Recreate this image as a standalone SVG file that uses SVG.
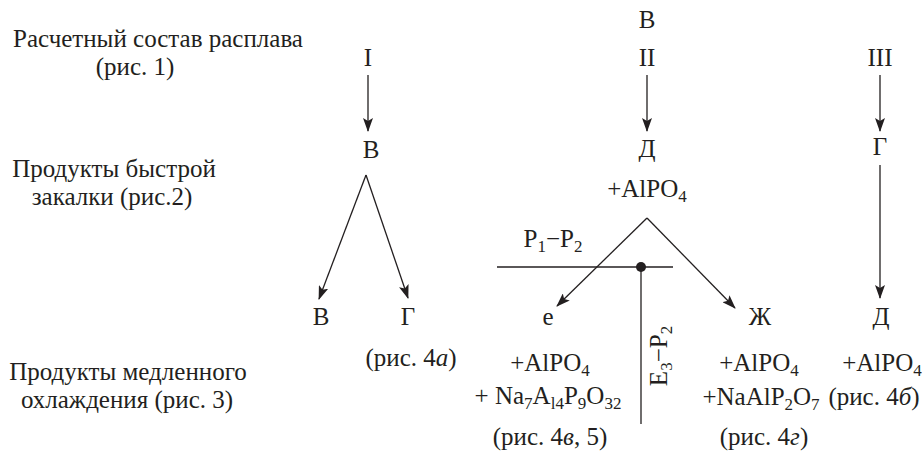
<svg xmlns="http://www.w3.org/2000/svg" width="924" height="460" viewBox="0 0 924 460">
<style>
text{font-family:"Liberation Serif","Times New Roman",serif;font-size:25px;fill:#231f20;text-anchor:middle}
.s{font-size:17px}
.i{font-style:italic}
.ln{stroke:#231f20;stroke-width:1.3;fill:none}
.ar{marker-end:url(#ah)}
</style>
<defs>
<marker id="ah" viewBox="0 0 14 10" refX="13" refY="5" markerWidth="14" markerHeight="10" markerUnits="userSpaceOnUse" orient="auto">
<path d="M0,0 L14,5 L0,10 L3,5 z" fill="#231f20"/>
</marker>
</defs>
<rect width="924" height="460" fill="#fff"/>
<g id="labels">
<text x="158" y="47">Расчетный состав расплава</text>
<text x="135" y="75">(рис. 1)</text>
<text x="114" y="177">Продукты быстрой</text>
<text x="112" y="205">закалки (рис.2)</text>
<text x="128" y="380">Продукты медленного</text>
<text x="127" y="408">охлаждения (рис. 3)</text>
</g>
<g id="n-top-B"><text x="647" y="28">В</text></g>
<g id="n-I"><text x="368" y="66">I</text></g>
<g id="n-II"><text x="647" y="66">II</text></g>
<g id="n-III"><text x="880" y="66">III</text></g>
<g id="n-B1"><text x="371" y="158">В</text></g>
<g id="n-D1"><text x="647" y="157">Д</text><text x="647" y="197">+AlPO<tspan class="s" dy="5">4</tspan></text></g>
<g id="n-G1"><text x="880" y="155">Г</text></g>
<g id="n-B2"><text x="321" y="325">В</text></g>
<g id="n-G2"><text x="408" y="325">Г</text><text x="411" y="366">(рис. 4<tspan class="i">а</tspan>)</text></g>
<g id="n-e"><text x="548" y="325">е</text><text x="550" y="371">+AlPO<tspan class="s" dy="5">4</tspan></text><text x="548" y="404">+ Na<tspan class="s" dy="5">7</tspan><tspan dy="-5">A</tspan><tspan class="s" dy="5">l4</tspan><tspan dy="-5">P</tspan><tspan class="s" dy="5">9</tspan><tspan dy="-5">O</tspan><tspan class="s" dy="5">32</tspan></text><text x="550" y="445">(рис. 4<tspan class="i">в</tspan>, 5)</text></g>
<g id="n-zh"><text x="760" y="325">Ж</text><text x="759" y="371">+AlPO<tspan class="s" dy="5">4</tspan></text><text x="761" y="405">+NaAlP<tspan class="s" dy="5">2</tspan><tspan dy="-5">O</tspan><tspan class="s" dy="5">7</tspan></text><text x="764" y="445">(рис. 4<tspan class="i">г</tspan>)</text></g>
<g id="n-D2"><text x="881" y="325">Д</text><text x="882" y="371">+AlPO<tspan class="s" dy="5">4</tspan></text><text x="874" y="405">(рис. 4<tspan class="i">б</tspan>)</text></g>
<g id="connectors">
<line class="ln ar" x1="368" y1="75" x2="368" y2="131"/>
<line class="ln ar" x1="647" y1="75" x2="647" y2="131"/>
<line class="ln ar" x1="880" y1="75" x2="880" y2="131"/>
<line class="ln ar" x1="880" y1="165" x2="880" y2="298"/>
<line class="ln ar" x1="366" y1="175" x2="319" y2="299"/>
<line class="ln ar" x1="366" y1="175" x2="408" y2="298"/>
<line class="ln ar" x1="647" y1="218" x2="557" y2="306"/>
<line class="ln ar" x1="647" y1="218" x2="735" y2="308"/>
</g>
<g id="section">
<line class="ln" x1="497" y1="267" x2="673" y2="267"/>
<line class="ln" x1="641" y1="267" x2="641" y2="424"/>
<circle cx="641" cy="267" r="5" fill="#231f20"/>
<text x="553" y="247">Р<tspan class="s" dy="5">1</tspan><tspan dy="-5">−Р</tspan><tspan class="s" dy="5">2</tspan></text>
<text transform="translate(667,356) rotate(-90)">Е<tspan class="s" dy="5">3</tspan><tspan dy="-5">−Р</tspan><tspan class="s" dy="5">2</tspan></text>
</g>
</svg>
